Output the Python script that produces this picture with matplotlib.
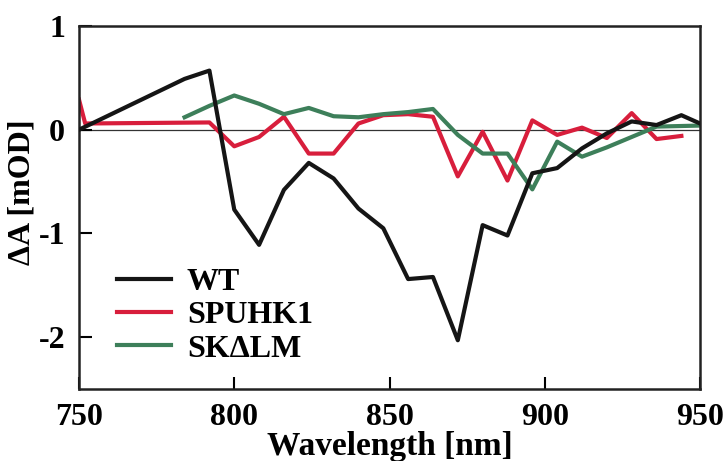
import matplotlib
matplotlib.use("Agg")
import matplotlib.pyplot as plt

# Data
wt_x = [750, 784, 792, 800, 808, 816, 824, 832, 840, 848, 856, 864, 872, 880, 888, 896, 904, 912, 920, 928, 936, 944, 950]
wt_y = [0.0, 0.49, 0.57, -0.77, -1.11, -0.58, -0.32, -0.47, -0.76, -0.95, -1.44, -1.42, -2.03, -0.92, -1.02, -0.42, -0.37, -0.18, -0.035, 0.08, 0.045, 0.14, 0.06]

sp_x = [750, 752, 792, 800, 808, 816, 824, 832, 840, 848, 856, 864, 872, 880, 888, 896, 904, 912, 920, 928, 936, 944]
sp_y = [0.29, 0.06, 0.07, -0.16, -0.07, 0.125, -0.23, -0.23, 0.06, 0.14, 0.15, 0.125, -0.45, -0.02, -0.49, 0.09, -0.05, 0.02, -0.08, 0.16, -0.09, -0.06]

sk_x = [784, 792, 800, 808, 816, 824, 832, 840, 848, 856, 864, 872, 880, 888, 896, 904, 912, 920, 928, 936, 950]
sk_y = [0.12, 0.23, 0.33, 0.25, 0.15, 0.21, 0.13, 0.12, 0.15, 0.17, 0.2, -0.05, -0.23, -0.23, -0.575, -0.115, -0.26, -0.17, -0.07, 0.03, 0.04]

labels = ["WT", "SPUHK1", "SK\u0394LM"]
colors = ["#151515", "#d81e3c", "#3d7f5a"]

xticks = [750, 800, 850, 900, 950]
yticks = [1, 0, -1, -2]

plt.rcParams['font.family'] = ['Liberation Serif', 'DejaVu Serif']
plt.rcParams['font.weight'] = 'bold'

fig = plt.figure(figsize=(7.28, 4.61), dpi=100)
ax = fig.add_axes([79/728, (461-389)/461, 621/728, 363/461])

ax.axhline(0, color='#333333', lw=0.9, zorder=1)
ax.plot(wt_x, wt_y, color=colors[0], lw=3, label=labels[0], zorder=3)
ax.plot(sp_x, sp_y, color=colors[1], lw=3, label=labels[1], zorder=2)
ax.plot(sk_x, sk_y, color=colors[2], lw=3, label=labels[2], zorder=2)

ax.set_xlim(750, 950)
ax.set_ylim(-2.5, 1)
ax.set_xticks(xticks)
ax.set_yticks(yticks)
ax.set_yticklabels([str(t) if t >= 0 else "-" + str(-t) for t in yticks])
ax.tick_params(direction='in', length=9, width=1.5, labelsize=23)
ax.tick_params(axis='x', pad=10)
ax.tick_params(axis='y', pad=10)
for lab in ax.get_xticklabels() + ax.get_yticklabels():
    lab.set_fontweight('bold')
for s in ax.spines.values():
    s.set_linewidth(1.8)
    s.set_color('#222222')

ax.set_xlabel("Wavelength [nm]", fontsize=24, fontweight='bold', labelpad=-1)
ax.set_ylabel("\u0394A [mOD]", fontsize=23, fontweight='bold')
ax.yaxis.set_label_coords(-0.068, 0.543)

leg = ax.legend(loc='lower left', bbox_to_anchor=(0.04, 0.035), frameon=False,
                prop={'size': 23, 'weight': 'bold'}, handlelength=1.7,
                handletextpad=0.5, labelspacing=0.12, borderaxespad=0)

fig.savefig("out.png", dpi=100)
